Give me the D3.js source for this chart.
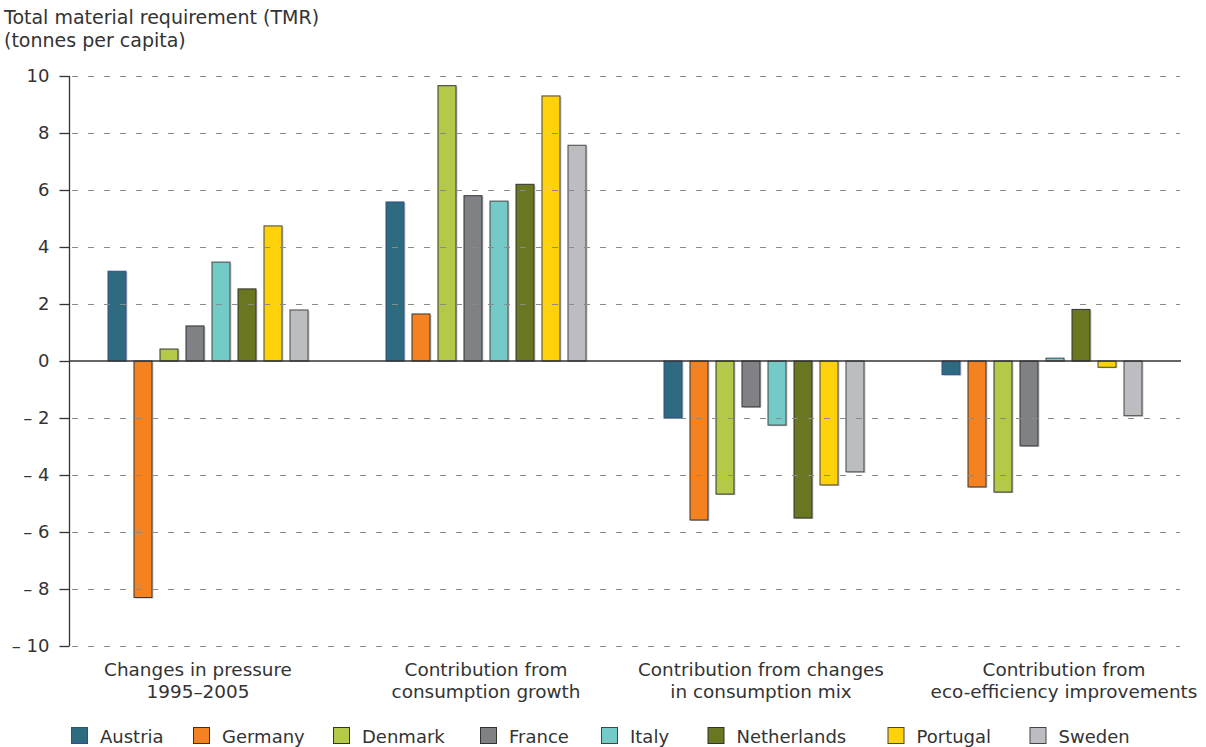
<!DOCTYPE html>
<html>
<head>
<meta charset="utf-8">
<script src="https://cdn.jsdelivr.net/npm/d3@7"></script>
<style>
  html, body { margin: 0; padding: 0; background: #fff; }
  svg text { font-family: "DejaVu Sans", Verdana, sans-serif; fill: #333; }
</style>
</head>
<body>
<svg id="chart" width="1206" height="747"></svg>
<script>
// Decomposition categories (two-line labels)
const categories = [
  ["Changes in pressure", "1995\u20132005"],
  ["Contribution from", "consumption growth"],
  ["Contribution from changes", "in consumption mix"],
  ["Contribution from", "eco-efficiency improvements"]
];
const countries = ["Austria", "Germany", "Denmark", "France", "Italy", "Netherlands", "Portugal", "Sweden"];

// TMR values, tonnes per capita, one entry per category
const austria     = [3.15,  5.58, -2.00, -0.48];
const germany     = [-8.30, 1.65, -5.58, -4.42];
const denmark     = [0.42,  9.66, -4.67, -4.60];
const france      = [1.23,  5.80, -1.61, -2.98];
const italy       = [3.47,  5.61, -2.25,  0.10];
const netherlands = [2.53,  6.20, -5.51,  1.81];
const portugal    = [4.74,  9.30, -4.35, -0.22];
const sweden      = [1.79,  7.57, -3.89, -1.92];
const seriesValues = [austria, germany, denmark, france, italy, netherlands, portugal, sweden];

const yTicks = [-10, -8, -6, -4, -2, 0, 2, 4, 6, 8, 10];

const colors = ["#2e6b80", "#f58220", "#b5c948", "#808184", "#73cac7", "#6b7621", "#fdd20a", "#bcbdc0"];
const strokes = ["#2f4d86", "#333", "#333", "#333", "#444", "#333", "#444", "#444"];
// layout tweaks: caption nudges and legend swatch positions
const captionShift = [-10, 0, -3, 22];
const legendX = [71.5, 193.5, 333.5, 480.5, 601.5, 708, 888, 1030];

const svg = d3.select("#chart");
const plotLeft = 70, plotRight = 1182, plotTop = 76, plotBottom = 646;
const fontSize = "18.4px";

const catKeys = categories.map(c => c.join(" "));
const x0 = d3.scaleBand().domain(catKeys).range([plotLeft - 1, plotRight - 1]).padding(0);
const x1 = d3.scaleBand().domain(countries).range([0, x0.bandwidth()])
  .paddingInner(8 / 26).paddingOuter(1.5);
const y = d3.scaleLinear().domain([-10, 10]).range([plotBottom, plotTop]);

// Title
const title = svg.append("text").style("font-size", "19px");
title.append("tspan").attr("x", 4).attr("y", 24).text("Total material requirement (TMR)");
title.append("tspan").attr("x", 4).attr("y", 47).text("(tonnes per capita)");

// Bars
const rows = [];
countries.forEach((c, i) => {
  seriesValues[i].forEach((v, j) => rows.push({ country: c, ci: i, cat: catKeys[j], value: v }));
});

const barG = svg.append("g");
const bx = d => x0(d.cat) + x1(d.country);
const by = d => y(Math.max(0, d.value));
const bh = d => Math.abs(y(d.value) - y(0));

barG.selectAll("rect.shadow").data(rows).join("rect")
  .attr("class", "shadow")
  .attr("x", d => bx(d) + 1.5).attr("y", d => by(d) + 1)
  .attr("width", x1.bandwidth()).attr("height", bh)
  .attr("fill", "#b8b8b8").attr("opacity", 0.7);

barG.selectAll("rect.bar").data(rows).join("rect")
  .attr("class", "bar")
  .attr("x", bx).attr("y", by)
  .attr("width", x1.bandwidth()).attr("height", bh)
  .attr("fill", d => colors[d.ci])
  .attr("stroke", d => strokes[d.ci]).attr("stroke-width", 1);

// Dashed gridlines, drawn over bars
svg.append("g").selectAll("line").data(yTicks.filter(t => t !== 0)).join("line")
  .attr("x1", plotLeft + 2).attr("x2", plotRight - 2)
  .attr("y1", d => y(d) + 0.5).attr("y2", d => y(d) + 0.5)
  .attr("stroke", "#8a8a8a").attr("stroke-width", 1.2)
  .attr("stroke-dasharray", "6,10");

// Zero line
svg.append("line")
  .attr("x1", plotLeft).attr("x2", plotRight - 1)
  .attr("y1", y(0)).attr("y2", y(0))
  .attr("stroke", "#333").attr("stroke-width", 1.6);

// Y axis
const yAxis = d3.axisLeft(y).tickValues(yTicks).tickSize(10).tickPadding(10)
  .tickFormat(d => d < 0 ? "\u2013 " + Math.abs(d) : String(d));
const ag = svg.append("g").attr("transform", `translate(${plotLeft - 0.5},0)`).call(yAxis);
ag.select(".domain").attr("stroke", "#333").attr("stroke-width", 1.3).attr("d", `M0,${plotTop}V${plotBottom}`);
ag.selectAll(".tick line").attr("stroke", "#333").attr("stroke-width", 1.3);
ag.selectAll(".tick text").style("font-size", "18px").style("font-family", "DejaVu Sans, Verdana, sans-serif").attr("fill", "#333");

// Category captions
const capG = svg.append("g");
categories.forEach((c, j) => {
  const cx = x0(catKeys[j]) + x0.bandwidth() / 2 + captionShift[j];
  const t = capG.append("text").attr("text-anchor", "middle").style("font-size", fontSize);
  t.append("tspan").attr("x", cx).attr("y", 675.5).text(c[0]);
  t.append("tspan").attr("x", cx).attr("y", 698).text(c[1]);
});

// Legend
const legG = svg.append("g");
countries.forEach((c, i) => {
  const lx = legendX[i];
  legG.append("rect").attr("x", lx).attr("y", 727.5).attr("width", 16).attr("height", 16)
    .attr("fill", colors[i]).attr("stroke", strokes[i]).attr("stroke-width", 1);
  legG.append("text").attr("x", lx + 28.5).attr("y", 743).style("font-size", "18px").text(c);
});
</script>
</body>
</html>
